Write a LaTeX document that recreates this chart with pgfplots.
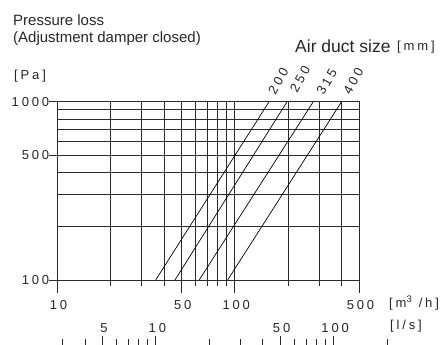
\documentclass[border=0pt]{standalone}
\usepackage{fontspec}
\setmainfont{Liberation Sans}
\newfontfamily\lsf[LetterSpace=22]{Liberation Sans}
\usepackage{pgfplots}
\pgfplotsset{compat=1.18}
\begin{document}
\begin{tikzpicture}[x=1pt,y=1pt]
\useasboundingbox (0,0) rectangle (447,345);
\definecolor{gridc}{HTML}{2A2A2A}
\begin{axis}[
  at={(57pt,65pt)}, anchor=south west,
  scale only axis, width=302pt, height=178.3pt,
  xmode=log, ymode=log,
  xmin=10, xmax=500, ymin=100, ymax=1000,
  xtick={10,50,100,500},
  xticklabels={\mbox{\lsf 10},\mbox{\lsf 50},\mbox{\lsf 100},\mbox{\lsf 500}},
  minor xtick={20,30,40,60,70,80,90,200,300,400},
  ytick={100,500,1000},
  yticklabels={\mbox{\lsf 100},\mbox{\lsf 500},\mbox{\lsf 1000}},
  minor ytick={200,300,400,600,700,800,900},
  grid=both,
  major grid style={gridc, line width=0.9pt},
  minor grid style={gridc, line width=0.9pt},
  axis line style={gridc, line width=0.9pt},
  tick pos=left, tick align=outside,
  xtick style={gridc, line width=0.9pt},
  ytick style={gridc, line width=0.9pt},
  x tick style={/pgfplots/major tick length=13pt, /pgfplots/minor tick length=6pt},
  y tick style={/pgfplots/major tick length=8pt, /pgfplots/minor tick length=0pt},
  xticklabel style={font=\fontsize{13}{14}\selectfont, text=black!85, anchor=north, yshift=-13pt, xshift=1.5pt},
  yticklabel style={font=\fontsize{13}{14}\selectfont, text=black!85, anchor=east, xshift=0pt},
  clip=true,
]
\addplot[black, line width=0.7pt] coordinates {(35.9,100) (156,1000)};
\addplot[black, line width=0.7pt] coordinates {(46.1,100) (197,1000)};
\addplot[black, line width=0.7pt] coordinates {(63.1,100) (276.5,1000)};
\addplot[black, line width=0.7pt] coordinates {(91.2,100) (399,1000)};
\end{axis}
\begin{axis}[
  at={(57pt,0pt)}, anchor=north west,
  scale only axis, width=330.15pt, height=5pt,
  xmode=log, xmin=2.77778, xmax=200, ymin=0, ymax=1,
  axis x line*=top, axis y line=none,
  x axis line style={draw=none},
  tick align=outside,
  xtick={5,10,50,100},
  xticklabels={\mbox{\lsf 5},\mbox{\lsf 10},\mbox{\lsf 50},\mbox{\lsf 100}},
  minor xtick={3,4,6,7,8,9,20,30,40,60,70,80,90,200},
  major tick length=9.3pt, minor tick length=6pt,
  xtick style={gridc, line width=0.9pt},
  xticklabel style={font=\fontsize{13}{14}\selectfont, text=black!85, anchor=south, yshift=0pt, xshift=1.5pt},
]
\addplot[draw=none] coordinates {(10,0.5)};
\end{axis}
\node[anchor=west, inner sep=0, font=\fontsize{15}{17}\selectfont, text=black!85] at (13,325) {Pressure loss};
\node[anchor=west, inner sep=0, font=\fontsize{15}{17}\selectfont, text=black!85] at (13,306.5) {(Adjustment damper closed)};
\node[anchor=west, inner sep=0, font=\fontsize{17.5}{19}\selectfont, text=black!85] at (295,299) {Air duct size};
\node[anchor=west, inner sep=0, font=\fontsize{13}{14}\selectfont\lsf, text=black!85] at (397,297.5) {[mm]};
\node[anchor=west, inner sep=0, font=\fontsize{13}{14}\selectfont\lsf, text=black!85] at (14,269) {[Pa]};
\node[anchor=west, inner sep=0, font=\fontsize{13}{14}\selectfont\lsf, text=black!85] at (389,42) {[m\textsuperscript{\fontsize{9.5}{10}\selectfont 3} /h]};
\node[anchor=west, inner sep=0, font=\fontsize{13}{14}\selectfont\lsf, text=black!85] at (390,19) {[l/s]};
\node[rotate=60, inner sep=0, font=\fontsize{13}{14}\selectfont\lsf, text=black!85] at (278.3,264) {200};
\node[rotate=60, inner sep=0, font=\fontsize{13}{14}\selectfont\lsf, text=black!85] at (300,265.7) {250};
\node[rotate=60, inner sep=0, font=\fontsize{13}{14}\selectfont\lsf, text=black!85] at (326.7,263.3) {315};
\node[rotate=60, inner sep=0, font=\fontsize{13}{14}\selectfont\lsf, text=black!85] at (353.3,264) {400};
\end{tikzpicture}
\end{document}
